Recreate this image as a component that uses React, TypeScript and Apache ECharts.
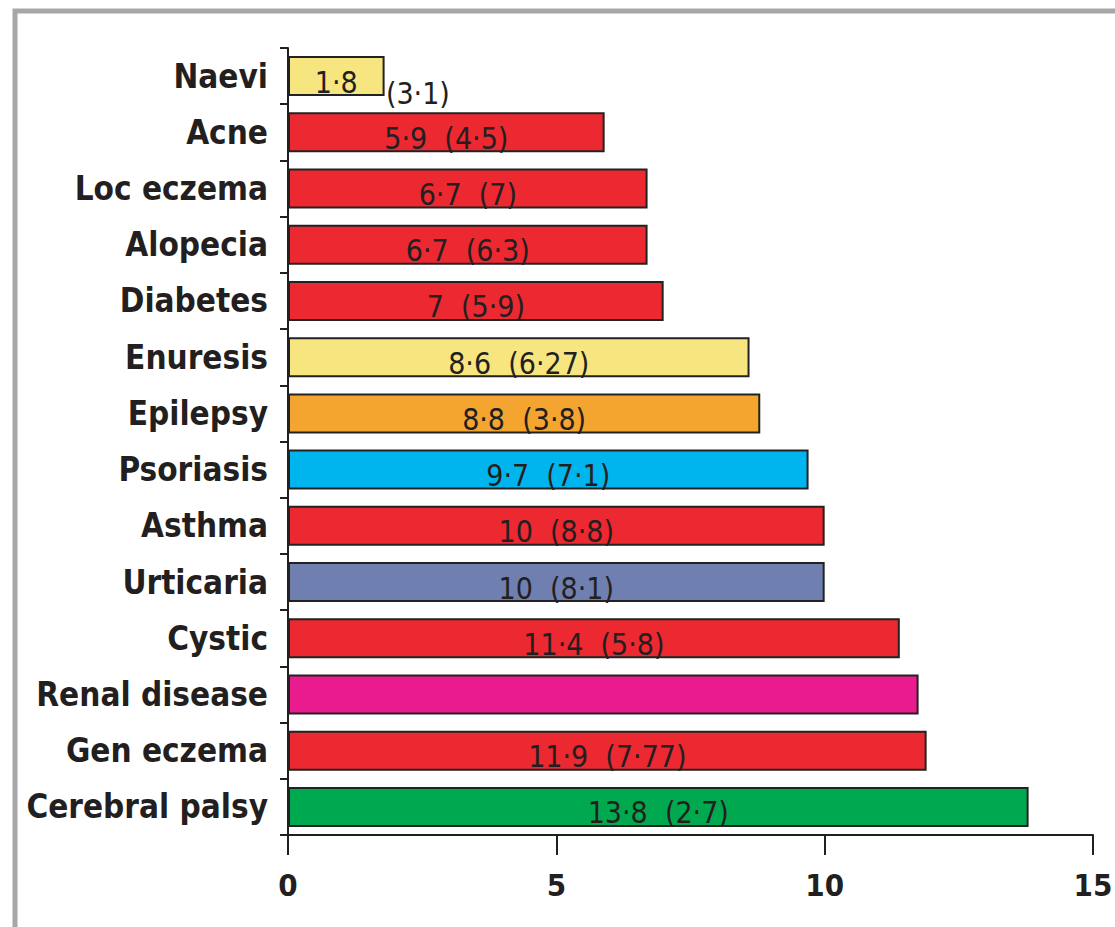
import React, { useEffect, useRef } from "react";
import * as echarts from "echarts";

const categories = [
  "Naevi", "Acne", "Loc eczema", "Alopecia", "Diabetes", "Enuresis", "Epilepsy",
  "Psoriasis", "Asthma", "Urticaria", "Cystic", "Renal disease", "Gen eczema", "Cerebral palsy",
];
const means = [1.8, 5.9, 6.7, 6.7, 7, 8.6, 8.8, 9.7, 10, 10, 11.4, 11.75, 11.9, 13.8];
const meanText = ["1·8", "5·9", "6·7", "6·7", "7", "8·6", "8·8", "9·7", "10", "10", "11·4", "", "11·9", "13·8"];
const sdText = ["(3·1)", "(4·5)", "(7)", "(6·3)", "(5·9)", "(6·27)", "(3·8)", "(7·1)", "(8·8)", "(8·1)", "(5·8)", "", "(7·77)", "(2·7)"];
const colors = [
  "#f7e67f", "#ec2830", "#ec2830", "#ec2830", "#ec2830", "#f7e67f", "#f3a530",
  "#00b5ee", "#ec2830", "#6f80b0", "#ec2830", "#e91b8d", "#ec2830", "#00a94f",
];
const xTicks = [0, 5, 10, 15];
// anchor for the Naevi SD label, which sits outside its short bar
const naeviSdAnchor = 2.42;

const FONT = "'DejaVu Sans Condensed', 'DejaVu Sans', sans-serif";
const INK = "#231f20";

export default function App() {
  const ref = useRef<HTMLDivElement>(null);
  useEffect(() => {
    document.body.style.margin = "0";
    const chart = echarts.init(ref.current!, null, { renderer: "svg" });
    const barData = means.map((v, i) => ({
      value: v,
      itemStyle: { color: colors[i] },
      label: {
        show: meanText[i] !== "",
        formatter: i === 0 ? meanText[i] : meanText[i] + "  " + sdText[i],
      },
    }));
    chart.setOption({
      animation: false,
      backgroundColor: "#ffffff",
      graphic: [
        {
          type: "rect",
          shape: { x: 15, y: 11, width: 1300, height: 1200 },
          style: { fill: "none", stroke: "#a7a7a9", lineWidth: 5 },
          z: -10,
        },
      ],
      grid: { left: 288, right: 22, top: 48, bottom: 92, containLabel: false, outerBoundsMode: "none" },
      xAxis: {
        type: "value",
        min: 0,
        max: 15,
        interval: 5,
        axisLine: { show: true, lineStyle: { color: INK, width: 2 } },
        axisTick: { show: true, length: 20, lineStyle: { color: INK, width: 2 } },
        splitLine: { show: false },
        axisLabel: {
          color: INK,
          fontFamily: FONT,
          fontSize: 31,
          fontWeight: "bold",
          margin: 34,
          formatter: (v: number) => (xTicks.includes(v) ? String(v) : ""),
        },
      },
      yAxis: {
        type: "category",
        data: categories,
        inverse: true,
        axisLine: { show: true, lineStyle: { color: INK, width: 2 } },
        axisTick: { show: true, length: 8, lineStyle: { color: INK, width: 2 } },
        axisLabel: {
          color: INK,
          fontFamily: FONT,
          fontSize: 33,
          fontWeight: "bold",
          margin: 20,
        },
      },
      series: [
        {
          type: "bar",
          data: barData,
          barWidth: 40,
          itemStyle: { borderColor: "#222", borderWidth: 2 },
          label: {
            show: true,
            position: "inside",
            offset: [0, 6],
            color: INK,
            fontFamily: FONT,
            fontSize: 30,
          },
          z: 2,
        },
        {
          type: "scatter",
          data: [[naeviSdAnchor, categories[0]]],
          symbolSize: 0,
          itemStyle: { opacity: 1 },
          label: {
            show: true,
            position: "inside",
            offset: [0, 17],
            formatter: sdText[0],
            color: INK,
            fontFamily: FONT,
            fontSize: 30,
          },
          z: 3,
        },
      ],
    });
    return () => chart.dispose();
  }, []);
  return <div ref={ref} style={{ width: 1115, height: 927 }} />;
}
